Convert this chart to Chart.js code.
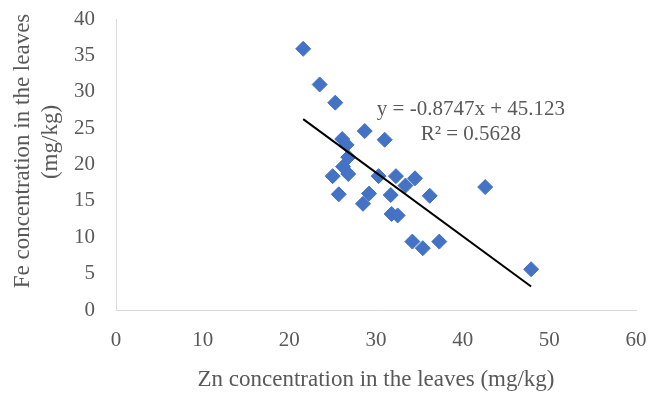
<!DOCTYPE html>
<html>
<head>
<meta charset="utf-8">
<script src="https://cdn.jsdelivr.net/npm/chart.js@4/dist/chart.umd.min.js"></script>
<style>
html,body{margin:0;padding:0;background:#fff;}
#wrap{width:648px;height:394px;}
</style>
</head>
<body>
<div id="wrap"><canvas id="c" width="648" height="394"></canvas></div>
<script>
// Data
const znValues = [21.6, 23.5, 25.3, 28.7, 31.0, 26.1, 26.6, 26.8, 26.2, 26.8,
                  25.0, 30.3, 32.3, 34.5, 33.4, 25.7, 29.2, 31.7, 36.2, 28.5,
                  31.8, 32.5, 34.2, 35.4, 37.3, 42.6, 47.9];
const feValues = [35.9, 31.0, 28.5, 24.6, 23.4, 23.5, 22.7, 21.0, 19.7, 18.7,
                  18.4, 18.4, 18.4, 18.1, 17.1, 15.9, 16.0, 15.8, 15.7, 14.6,
                  13.2, 13.0, 9.4, 8.5, 9.4, 16.9, 5.6];
const xTicks = [0, 10, 20, 30, 40, 50, 60];
const yTicks = [0, 5, 10, 15, 20, 25, 30, 35, 40];
const trendSlope = -0.8747;
const trendIntercept = 45.123;
const equationText = 'y = -0.8747x + 45.123';
const r2Text = 'R\u00B2 = 0.5628';
const xTitle = 'Zn concentration in the leaves (mg/kg)';
const yTitle = ['Fe concentration in the leaves', '(mg/kg)'];

const points = znValues.map((x, i) => ({x: x, y: feValues[i]}));
const xMin = Math.min(...znValues), xMax = Math.max(...znValues);
const trendPoints = [xMin, xMax].map(x => ({x: x, y: trendSlope * x + trendIntercept}));

const TEXT = '#595959';
const FONT = '"Liberation Serif", "Times New Roman", serif';

const annotPlugin = {
  id: 'annot',
  afterDraw(chart) {
    const ctx = chart.ctx;
    const xs = chart.scales.x, ys = chart.scales.y;
    ctx.save();
    ctx.fillStyle = TEXT;
    ctx.font = '21px ' + FONT;
    ctx.textAlign = 'center';
    ctx.textBaseline = 'alphabetic';
    ctx.fillText(equationText, xs.getPixelForValue(40.95), ys.getPixelForValue(26.8));
    ctx.fillText(r2Text, xs.getPixelForValue(40.95), ys.getPixelForValue(23.35));
    // y axis title (two lines, rotated)
    ctx.font = '23px ' + FONT;
    ctx.textBaseline = 'middle';
    ctx.translate(23, 151);
    ctx.rotate(-Math.PI / 2);
    ctx.fillText(yTitle[0], 0, 0);
    ctx.restore();
    ctx.save();
    ctx.fillStyle = TEXT;
    ctx.font = '23px ' + FONT;
    ctx.textAlign = 'center';
    ctx.textBaseline = 'middle';
    ctx.translate(51, 142);
    ctx.rotate(-Math.PI / 2);
    ctx.fillText(yTitle[1], 0, 0);
    ctx.restore();
  }
};

new Chart(document.getElementById('c'), {
  type: 'scatter',
  data: {
    datasets: [
      {
        type: 'line',
        label: 'Trend',
        data: trendPoints,
        borderColor: '#000000',
        borderWidth: 2,
        pointRadius: 0,
        fill: false,
        order: 0
      },
      {
        label: 'Fe vs Zn',
        data: points,
        pointStyle: 'rectRot',
        pointRadius: 7.5,
        backgroundColor: '#4472C4',
        borderColor: '#4472C4',
        borderWidth: 1,
        order: 1
      }
    ]
  },
  options: {
    responsive: false,
    animation: false,
    devicePixelRatio: 1,
    layout: {autoPadding: false, padding: {top: 19, right: 12, left: 0, bottom: 0}},
    plugins: {legend: {display: false}, tooltip: {enabled: false}},
    scales: {
      x: {
        type: 'linear',
        min: 0, max: 60,
        afterBuildTicks(scale) { scale.ticks = xTicks.map(v => ({value: v})); },
        afterFit(scale) { scale.height = 84; scale.paddingLeft = 0; scale.paddingRight = 0; },
        grid: {display: false, drawTicks: false},
        border: {display: true, color: '#d9d9d9', width: 1},
        ticks: {color: TEXT, font: {family: FONT, size: 21}, padding: 18},
        title: {display: true, text: xTitle, color: TEXT, font: {family: FONT, size: 23}, padding: {top: 0, bottom: 0}}
      },
      y: {
        type: 'linear',
        min: 0, max: 40,
        afterBuildTicks(scale) { scale.ticks = yTicks.map(v => ({value: v})); },
        afterFit(scale) { scale.width = 116; scale.paddingTop = 0; scale.paddingBottom = 0; },
        grid: {display: false, drawTicks: false},
        border: {display: true, color: '#d9d9d9', width: 1},
        ticks: {color: TEXT, font: {family: FONT, size: 21}, padding: 21}
      }
    }
  },
  plugins: [annotPlugin]
});
</script>
</body>
</html>
